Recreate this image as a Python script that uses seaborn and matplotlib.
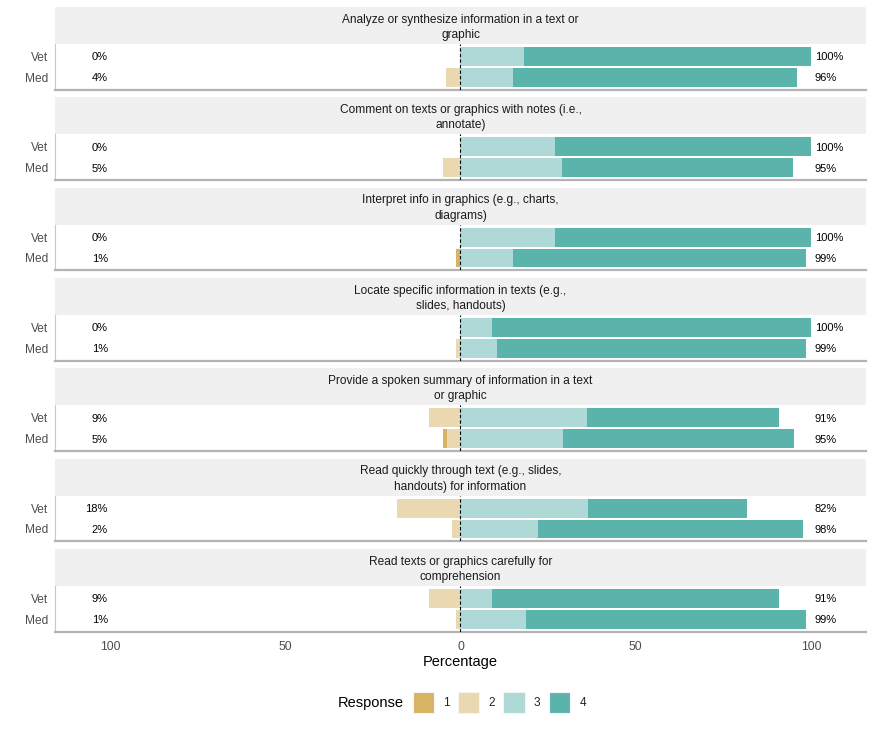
import numpy as np
import pandas as pd
import matplotlib
matplotlib.use("Agg")
import matplotlib.pyplot as plt
import seaborn as sns
from matplotlib.patches import Patch

# facet titles (already wrapped the way the reference shows them)
items = [
    "Analyze or synthesize information in a text or\ngraphic",
    "Comment on texts or graphics with notes (i.e.,\nannotate)",
    "Interpret info in graphics (e.g., charts,\ndiagrams)",
    "Locate specific information in texts (e.g.,\nslides, handouts)",
    "Provide a spoken summary of information in a text\nor graphic",
    "Read quickly through text (e.g., slides,\nhandouts) for information",
    "Read texts or graphics carefully for\ncomprehension",
]
groups = ["Vet", "Med"]
responses = ["1", "2", "3", "4"]

# percentages per response level, one value per item
vet_1 = [0, 0, 0, 0, 0, 0, 0]
vet_2 = [0, 0, 0, 0, 9, 18.2, 9.1]
vet_3 = [18, 27, 27, 9, 36, 36.4, 9]
vet_4 = [82, 73, 73, 91, 55, 45.4, 81.9]

med_1 = [0, 0, 1.3, 0, 1.1, 0, 0]
med_2 = [4, 5, 0, 1.3, 3.8, 2.3, 1.3]
med_3 = [15, 29, 15, 10.5, 29.3, 22.1, 18.7]
med_4 = [81, 66, 83.7, 88.2, 65.8, 75.6, 80]

colors = ["#D8B365", "#EAD9B0", "#AED9D6", "#5AB4AC"]

sns.set_theme(style="white")
plt.rcParams["font.family"] = ["Liberation Sans", "DejaVu Sans"]

W, H = 874, 729
fig = plt.figure(figsize=(W / 100, H / 100), dpi=100)

left_px, right_px = 55, 866
strip_h, panel_h, step = 37, 45.8, 90.33


def fx(px):
    return px / W


def fy(py):
    return 1 - py / H


for i, item in enumerate(items):
    top = 7 + i * step

    strip = fig.add_axes([fx(left_px), fy(top + strip_h), fx(right_px) - fx(left_px), strip_h / H])
    strip.set_facecolor("#F0F0F0")
    strip.set_xticks([])
    strip.set_yticks([])
    for s in strip.spines.values():
        s.set_visible(False)
    strip.text(0.5, 0.45, item, ha="center", va="center", fontsize=8.6,
               color="#1A1A1A", transform=strip.transAxes, linespacing=1.4)

    ax = fig.add_axes([fx(left_px), fy(top + strip_h + panel_h), fx(right_px) - fx(left_px), panel_h / H])
    r1 = np.array([vet_1[i], med_1[i]])
    r2 = np.array([vet_2[i], med_2[i]])
    r3 = np.array([vet_3[i], med_3[i]])
    r4 = np.array([vet_4[i], med_4[i]])
    df = pd.DataFrame({
        "group": groups,
        "pos_outer": r3 + r4,
        "pos_inner": r3,
        "neg_outer": -(r1 + r2),
        "neg_inner": -r2,
    })
    layers = [("pos_outer", colors[3]), ("pos_inner", colors[2]),
              ("neg_outer", colors[0]), ("neg_inner", colors[1])]
    for col, c in layers:
        sns.barplot(data=df, x=col, y="group", order=groups, orient="h",
                    color=c, saturation=1, width=0.9, linewidth=0,
                    errorbar=None, ax=ax)

    ax.axvline(0, color="black", lw=0.8, ls=(0, (3, 2)), zorder=5)

    for j in range(2):
        low = r1[j] + r2[j]
        high = r3[j] + r4[j]
        ax.text(-100.6, j, f"{low:.0f}%", ha="right", va="center_baseline", fontsize=8, color="black")
        ax.text(101.1, j, f"{high:.0f}%", ha="left", va="center_baseline", fontsize=8, color="black")

    ax.set_xlim(-115.7, 115.7)
    ax.set_ylim(1.6, -0.6)
    ax.set_xlabel("")
    ax.set_ylabel("")
    ax.set_xticks(np.arange(-100, 101, 25))
    if i == len(items) - 1:
        ax.set_xticklabels(["100", "", "50", "", "0", "", "50", "", "100"])
    else:
        ax.set_xticklabels([""] * 9)
    ax.tick_params(axis="x", direction="in", length=2.5, width=0.8, color="#D0D0D0",
                   labelsize=8.8, labelcolor="#4D4D4D", pad=6.5)
    ax.tick_params(axis="y", length=0, labelsize=8.6, labelcolor="#4D4D4D", pad=4.8)
    for lbl in ax.get_yticklabels():
        lbl.set_va("center_baseline")
    ax.spines["top"].set_visible(False)
    ax.spines["right"].set_visible(False)
    ax.spines["bottom"].set_color("#B3B3B3")
    ax.spines["bottom"].set_linewidth(1.6)
    ax.spines["left"].set_color("#C8C8C8")
    ax.spines["left"].set_linewidth(0.8)

fig.text(fx(460.5), fy(662), "Percentage", ha="center", va="center", fontsize=10.5, color="black")

fig.text(fx(338), fy(703), "Response", ha="left", va="center", fontsize=10.5, color="black")
handles = [Patch(facecolor=c, edgecolor="#F4F4F4", linewidth=0.8) for c in colors]
fig.legend(handles, responses, ncol=4, loc="center left",
           bbox_to_anchor=(fx(412.5), fy(702.5)), frameon=False,
           fontsize=8.6, handlelength=1.8, handleheight=2.3,
           handletextpad=0.75, columnspacing=0.7, borderpad=0, borderaxespad=0)

fig.savefig("out.png", dpi=100)
